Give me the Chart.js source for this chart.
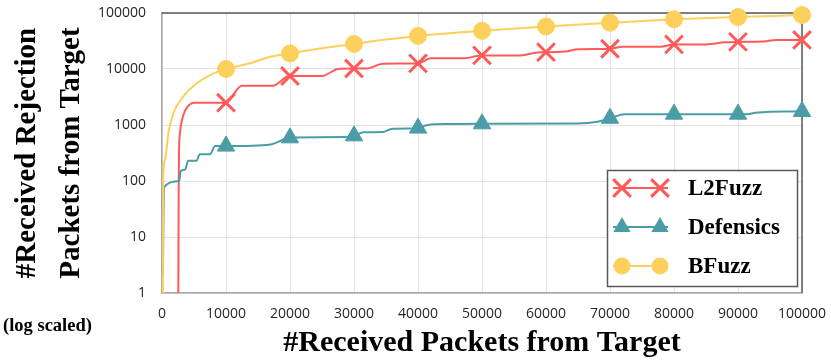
<!DOCTYPE html>
<html>
<head>
<meta charset="utf-8">
<script src="https://cdn.jsdelivr.net/npm/chart.js@4.4.1/dist/chart.umd.min.js"></script>
<style>
  html, body { margin: 0; padding: 0; background: #fff; }
  #wrap { width: 831px; height: 361px; }
</style>
</head>
<body>
<div id="wrap"><canvas id="fuzzChart" width="831" height="361"></canvas></div>
<script>
// values (x = received packets, y = received rejections)
var l2fuzzX = [2550, 2600, 2650, 2800, 3100, 3600, 4300, 5000, 10000, 10300, 12500, 17300, 19500, 20000, 25000, 27500, 30000, 32000, 34500, 40000, 42000, 47000, 50000, 56000, 59000, 60000, 63000, 65000, 70000, 72000, 78000, 80000, 85000, 88000, 90000, 94000, 96000, 100000];
var l2fuzzY = [1, 50, 300, 700, 1200, 1800, 2300, 2500, 2500, 2600, 5000, 5000, 7300, 7500, 7500, 10000, 10200, 10200, 12400, 12600, 15500, 15500, 17500, 17500, 20000, 20000, 20500, 22500, 23000, 25000, 25000, 27500, 27500, 30000, 30500, 31000, 33000, 33000];

var defensicsX = [150, 300, 2700, 2900, 3600, 4100, 5400, 5900, 7500, 8300, 10000, 17000, 19500, 20000, 20500, 28500, 30000, 31500, 34500, 36000, 39500, 40000, 41500, 45000, 50000, 64800, 68000, 70000, 72300, 80000, 90000, 91400, 92700, 97300, 100000];
var defensicsY = [2, 77, 100, 150, 160, 230, 230, 300, 300, 420, 420, 450, 580, 590, 600, 610, 640, 740, 750, 860, 870, 880, 1000, 1040, 1050, 1060, 1140, 1320, 1560, 1560, 1560, 1560, 1650, 1750, 1750];

var bfuzzX = [120, 200, 470, 990, 1770, 3330, 5420, 7500, 10000, 13750, 17000, 20000, 25000, 30000, 35000, 40000, 50000, 60000, 70000, 80000, 90000, 100000];
var bfuzzY = [1, 120, 240, 710, 1620, 3200, 5550, 7800, 10000, 12700, 16500, 19000, 23500, 28000, 33500, 39000, 48000, 57500, 67000, 77000, 85000, 92000];

var seriesNames = ['L2Fuzz', 'Defensics', 'BFuzz'];
var markerX = [10000, 20000, 30000, 40000, 50000, 60000, 70000, 80000, 90000, 100000];
var yTicks = [1, 10, 100, 1000, 10000, 100000];

function toPoints(xs, ys) {
    var pts = [];
    for (var i = 0; i < xs.length; i++) {
        pts.push({ x: xs[i], y: ys[i] });
    }
    return pts;
}

// only show a marker every 10000 packets
function markerSize(r) {
    return function(ctx) {
        return (ctx.raw && markerX.indexOf(ctx.raw.x) >= 0) ? r : 0;
    };
}

function drawMarker(c, style, x, y, r, color) {
    c.fillStyle = color;
    c.strokeStyle = color;
    c.beginPath();
    if (style === 'circle') {
        c.arc(x, y, r, 0, 2 * Math.PI);
        c.fill();
    } else if (style === 'triangle') {
        c.moveTo(x, y - r);
        c.lineTo(x + r * 0.866, y + r * 0.5);
        c.lineTo(x - r * 0.866, y + r * 0.5);
        c.closePath();
        c.fill();
    } else {
        var d = r * 0.707;
        c.lineWidth = 3;
        c.moveTo(x - d, y - d); c.lineTo(x + d, y + d);
        c.moveTo(x + d, y - d); c.lineTo(x - d, y + d);
        c.stroke();
    }
}

var frameAndLegend = {
    id: 'frameAndLegend',
    beforeDatasetsDraw: function(chart) {
        var a = chart.chartArea, c = chart.ctx;
        c.save();
        c.strokeStyle = '#595959';
        c.lineWidth = 1.5;
        c.beginPath();
        c.moveTo(a.left, a.top);
        c.lineTo(a.right, a.top);
        c.lineTo(a.right, a.bottom);
        c.stroke();
        c.restore();
    },
    afterDraw: function(chart) {
        var c = chart.ctx;
        c.save();
        // legend box
        c.fillStyle = '#fff';
        c.fillRect(607, 170, 190, 116);
        c.strokeStyle = '#595959';
        c.lineWidth = 1.5;
        c.strokeRect(607.5, 170.5, 190, 116);
        var rows = [188, 227, 266];
        chart.data.datasets.forEach(function(ds, i) {
            var y = rows[i];
            c.strokeStyle = ds.borderColor;
            c.lineWidth = 2;
            c.beginPath();
            c.moveTo(613, y);
            c.lineTo(668, y);
            c.stroke();
            drawMarker(c, ds.pointStyle, 622, y, ds.legendRadius, ds.borderColor);
            drawMarker(c, ds.pointStyle, 660, y, ds.legendRadius, ds.borderColor);
            c.fillStyle = '#000';
            c.font = 'bold 23px "Liberation Serif"';
            c.textAlign = 'left';
            c.textBaseline = 'middle';
            c.fillText(ds.label, 688, y + 1);
        });
        c.font = 'bold 18.5px "Liberation Serif"';
        c.fillStyle = '#000';
        c.textAlign = 'left';
        c.textBaseline = 'middle';
        c.fillText('(log scaled)', 3, 326);
        c.restore();
    }
};

var tickFont = { family: 'Open Sans', size: 14 };
var titleFont = { family: 'Liberation Serif', size: 30, weight: 'bold' };

var ctx = document.getElementById('fuzzChart').getContext('2d');
var fuzzChart = new Chart(ctx, {
    type: 'line',
    data: {
        datasets: [{
            label: seriesNames[0],
            data: toPoints(l2fuzzX, l2fuzzY),
            borderColor: '#FF5A5A',
            backgroundColor: '#FF5A5A',
            pointStyle: 'crossRot',
            pointRadius: markerSize(12.5),
            pointBorderWidth: 3,
            legendRadius: 12.5,
            order: 2
        }, {
            label: seriesNames[1],
            data: toPoints(defensicsX, defensicsY),
            borderColor: '#4A9DA6',
            backgroundColor: '#4A9DA6',
            pointStyle: 'triangle',
            pointRadius: markerSize(10),
            pointBorderWidth: 1,
            legendRadius: 10,
            order: 1
        }, {
            label: seriesNames[2],
            data: toPoints(bfuzzX, bfuzzY),
            borderColor: '#FCD05A',
            backgroundColor: '#FCD05A',
            pointStyle: 'circle',
            pointRadius: markerSize(8.5),
            pointBorderWidth: 1,
            legendRadius: 8.5,
            order: 0
        }]
    },
    options: {
        responsive: false,
        animation: false,
        layout: { autoPadding: false, padding: { left: 0, top: 13, right: 29, bottom: 0 } },
        elements: {
            line: { borderWidth: 2, cubicInterpolationMode: 'monotone', fill: false },
            point: { hoverRadius: 0 }
        },
        datasets: { line: { clip: false } },
        plugins: {
            legend: { display: false },
            tooltip: { enabled: false }
        },
        scales: {
            x: {
                type: 'linear',
                min: 0,
                max: 100000,
                afterFit: function(s) { s.height = 68; },
                ticks: {
                    stepSize: 10000,
                    padding: 0,
                    maxRotation: 0,
                    autoSkip: false,
                    color: '#262626',
                    font: tickFont,
                    callback: function(v) { return String(v); }
                },
                grid: { color: '#E3E3E3', lineWidth: 1, drawTicks: true, tickLength: 13, tickColor: 'rgba(0,0,0,0)' },
                border: { color: '#A6A6A6', width: 1.5 },
                title: {
                    display: true,
                    text: '#Received Packets from Target',
                    color: '#000',
                    font: titleFont,
                    padding: { top: 0, bottom: 0 }
                }
            },
            y: {
                type: 'logarithmic',
                min: 1,
                max: 100000,
                afterFit: function(s) { s.width = 162; },
                afterBuildTicks: function(s) {
                    s.ticks = yTicks.map(function(v) { return { value: v }; });
                },
                ticks: {
                    padding: 0,
                    color: '#262626',
                    font: tickFont,
                    callback: function(v) { return String(v); }
                },
                grid: { color: '#E3E3E3', lineWidth: 1, drawTicks: true, tickLength: 16, tickColor: 'rgba(0,0,0,0)' },
                border: { color: '#A6A6A6', width: 1.5 },
                title: {
                    display: true,
                    text: ['#Received Rejection', 'Packets from Target'],
                    color: '#000',
                    font: { family: 'Liberation Serif', size: 29, weight: 'bold', lineHeight: '44px' },
                    padding: { top: 6, bottom: 0 }
                }
            }
        }
    },
    plugins: [frameAndLegend]
});
</script>
</body>
</html>
